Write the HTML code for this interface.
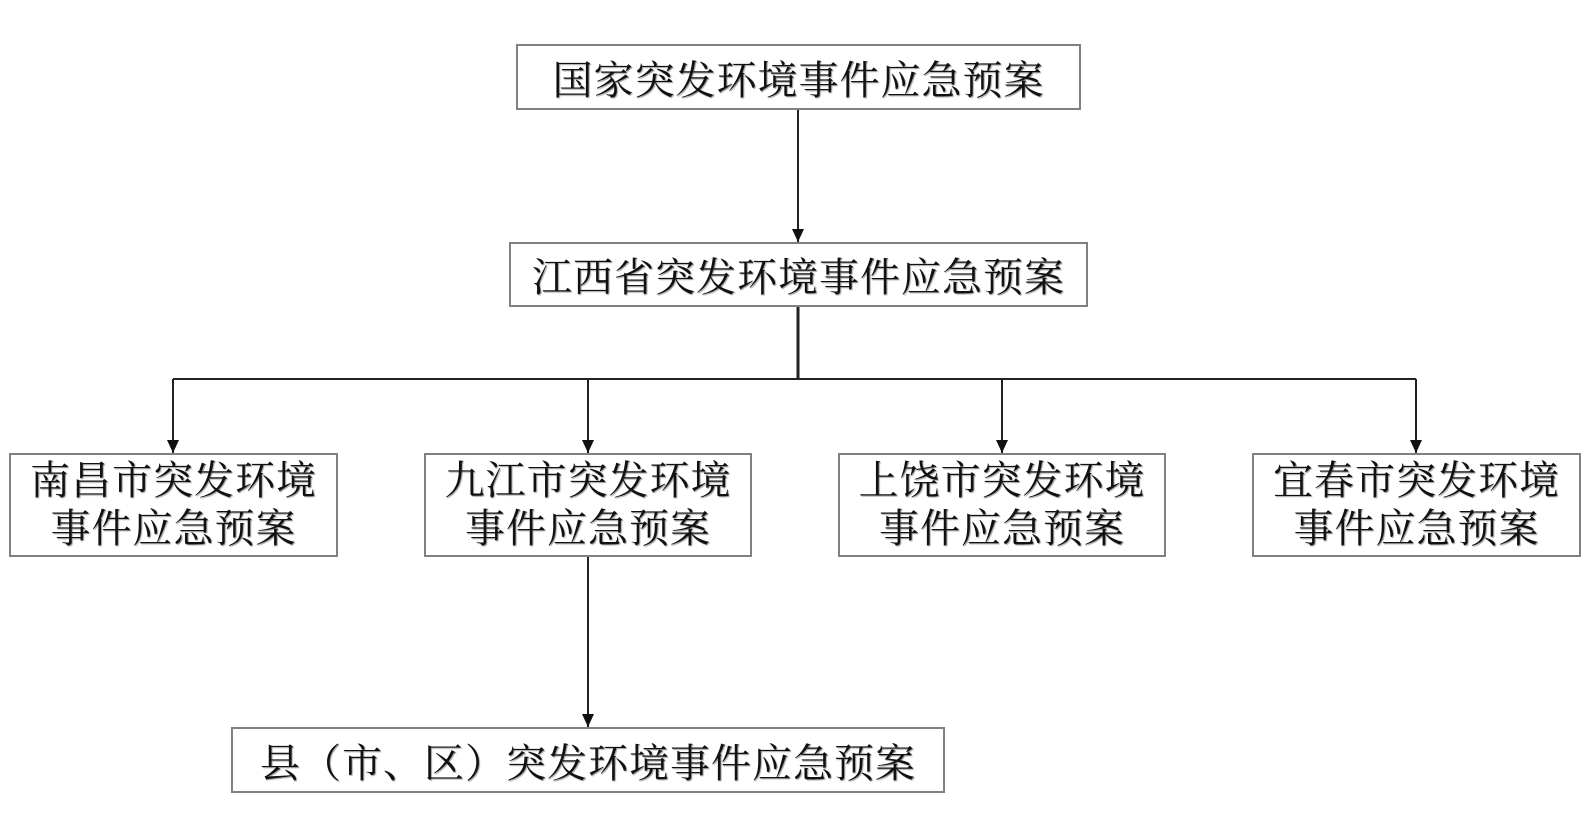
<!DOCTYPE html>
<html><head><meta charset="utf-8"><style>
html,body{margin:0;padding:0;background:#fff;}
body{width:1593px;height:815px;position:relative;overflow:hidden;font-family:"Liberation Serif","Noto Serif CJK SC",serif;color:#111;}
.b{position:absolute;border:2px solid #808080;box-sizing:border-box;display:flex;align-items:center;justify-content:center;text-align:center;background:#fff;text-shadow:1px 1px 1px #999;}
.s{font-size:40px;letter-spacing:1px;}
.r{font-size:40px;line-height:48px;letter-spacing:1px;}
svg{position:absolute;left:0;top:0;}
</style></head><body>
<svg width="1593" height="815">
<g stroke="#222" stroke-width="2" fill="none">
<line x1="798" y1="110" x2="798" y2="242"/>
<line x1="798" y1="307" x2="798" y2="379" stroke-width="3"/>
<line x1="173" y1="379" x2="1416" y2="379"/>
<line x1="173" y1="379" x2="173" y2="453"/>
<line x1="588" y1="379" x2="588" y2="453"/>
<line x1="1002" y1="379" x2="1002" y2="453"/>
<line x1="1416" y1="379" x2="1416" y2="453"/>
<line x1="588" y1="557" x2="588" y2="727"/>
</g>
<g fill="#111">
<path d="M792,229 L804,229 L798,242 Z"/>
<path d="M167,440 L179,440 L173,453 Z"/>
<path d="M582,440 L594,440 L588,453 Z"/>
<path d="M996,440 L1008,440 L1002,453 Z"/>
<path d="M1410,440 L1422,440 L1416,453 Z"/>
<path d="M582,714 L594,714 L588,727 Z"/>
</g>
</svg>
<div class="b s" style="left:516px;top:44px;width:565px;height:66px;">国家突发环境事件应急预案</div>
<div class="b s" style="left:509px;top:242px;width:579px;height:65px;">江西省突发环境事件应急预案</div>
<div class="b r" style="left:9px;top:453px;width:329px;height:104px;">南昌市突发环境<br>事件应急预案</div>
<div class="b r" style="left:424px;top:453px;width:328px;height:104px;">九江市突发环境<br>事件应急预案</div>
<div class="b r" style="left:838px;top:453px;width:328px;height:104px;">上饶市突发环境<br>事件应急预案</div>
<div class="b r" style="left:1252px;top:453px;width:329px;height:104px;">宜春市突发环境<br>事件应急预案</div>
<div class="b s" style="left:231px;top:727px;width:714px;height:66px;">县（市、区）突发环境事件应急预案</div>
</body></html>
